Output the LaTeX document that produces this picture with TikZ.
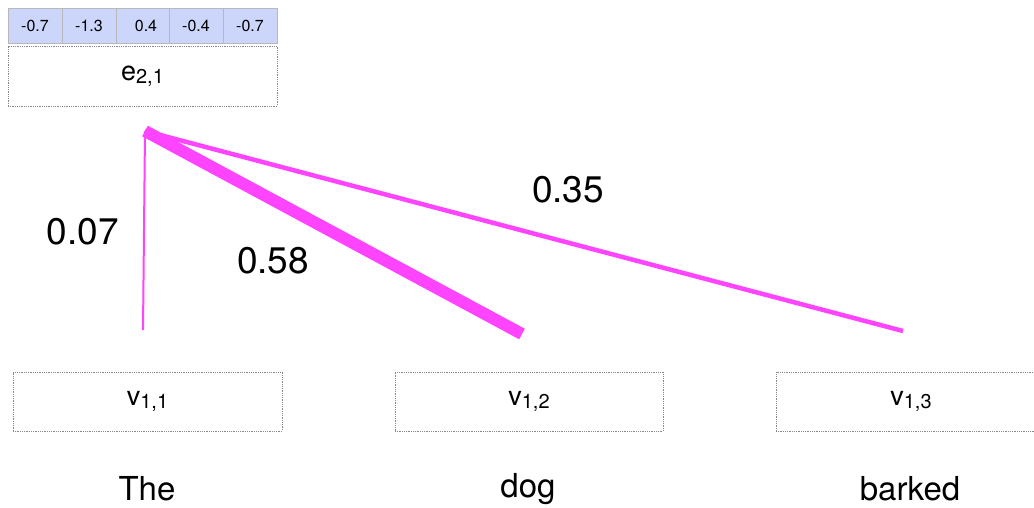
\documentclass[tikz,border=0pt]{standalone}
\usepackage{fontspec}
\setmainfont{TeX Gyre Heros}
\definecolor{cellblue}{HTML}{CCD6FA}
\definecolor{mag}{HTML}{FF44FF}
\definecolor{bordergray}{HTML}{888888}
\newcommand{\sub}[1]{\raisebox{-0.12em}{\fontsize{20}{20}\selectfont #1}}
\tikzset{
  cell/.style={draw=bordergray!60, line width=0.6pt, fill=cellblue, minimum width=54pt, minimum height=35pt, inner sep=0pt, font=\fontsize{16}{16}\selectfont},
  wbox/.style={draw=bordergray, densely dotted, line width=0.8pt, minimum height=60pt, inner sep=0pt, font=\fontsize{27}{27}\selectfont},
  lab/.style={font=\fontsize{37}{37}\selectfont, inner sep=0pt},
  word/.style={font=\fontsize{33}{33}\selectfont, inner sep=0pt},
  att/.style={draw=mag, line cap=butt}
}
\begin{document}
\begin{tikzpicture}[x=1pt,y=-1pt]
\useasboundingbox (0,0) rectangle (1034,507);
% vector cells
\node[cell] (c1) at (35,25.5) {-0.7};
\node[cell] (c2) at (89,25.5) {-1.3};
\node[cell] (c3) at (143,25.5) {\hspace{6pt}0.4};
\node[cell] (c4) at (196,25.5) {-0.4};
\node[cell] (c5) at (250,25.5) {-0.7};
% e box
\node[wbox, minimum width=269pt] (e) at (142.5,76) {e\sub{2,1}};
% v boxes
\node[wbox, minimum width=269pt, minimum height=59pt] (v1) at (147.5,401.5) {v\sub{1,1}};
\node[wbox, minimum width=268pt, minimum height=59pt] (v2) at (529,401.5) {v\sub{1,2}};
\node[wbox, minimum width=270pt, minimum height=59pt] (v3) at (911,401.5) {v\sub{1,3}};
% words
\node[word] (w1) at (147,489) {The};
\node[word] (w2) at (528,489) {dog};
\node[word] (w3) at (910,489) {barked};
% attention lines
\coordinate (s) at (145,131);
\coordinate (t1) at (143,330);
\coordinate (t2) at (522,334);
\coordinate (t3) at (903,331);
\draw[att, line width=2pt] (s) -- (t1);
\draw[att, line width=4.5pt] (s) -- (t3);
\draw[att, line width=12pt] (s) -- (t2);
% labels
\node[lab] (l1) at (83,232) {0.07};
\node[lab] (l2) at (273,261) {0.58};
\node[lab] (l3) at (568,190) {0.35};
\end{tikzpicture}
\end{document}
